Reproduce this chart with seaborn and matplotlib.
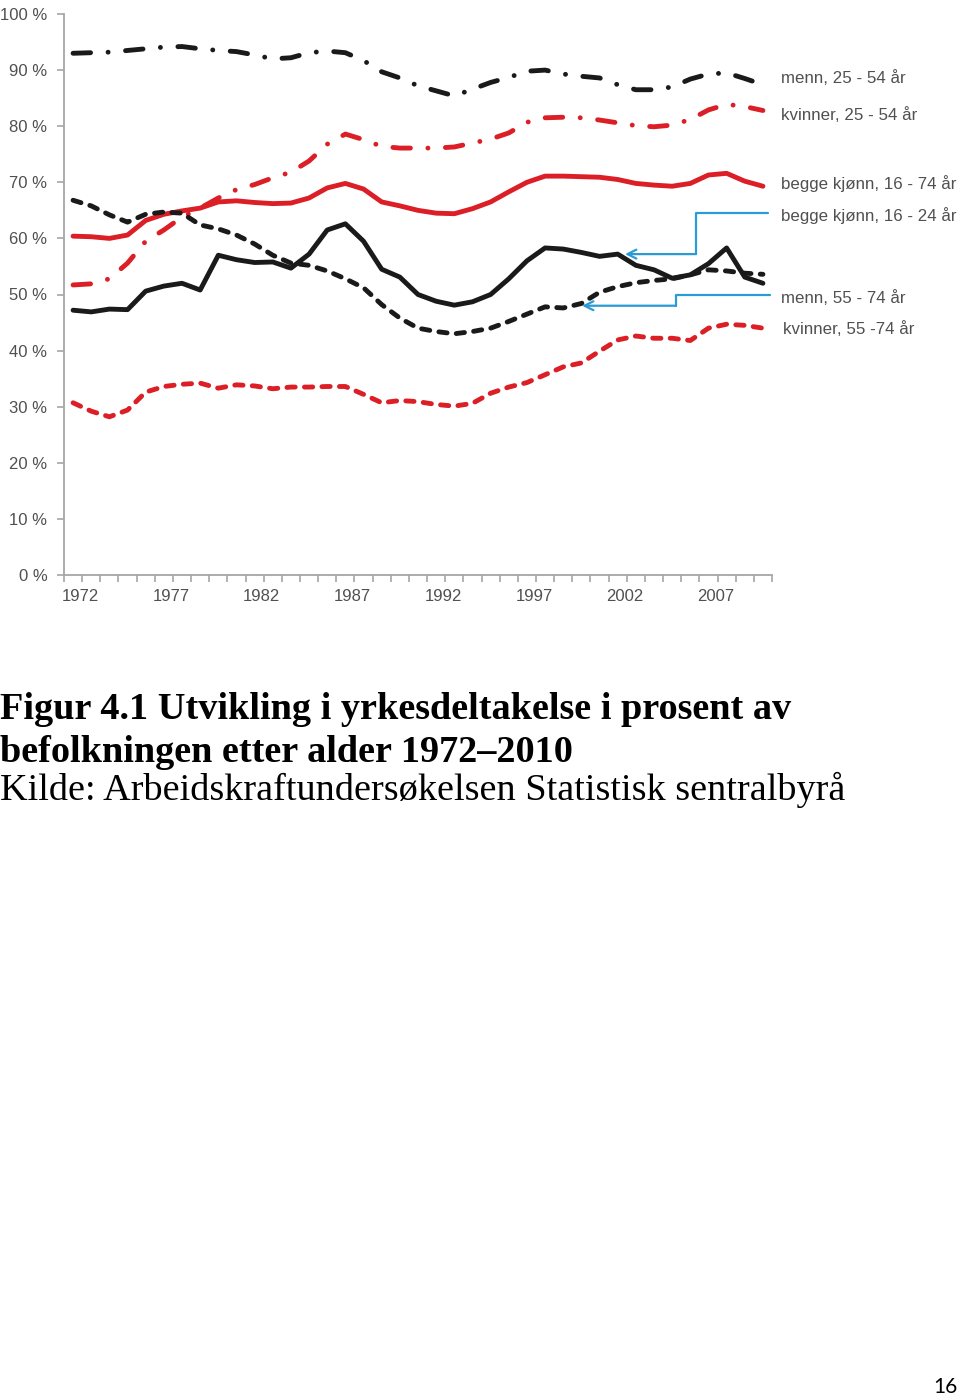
import numpy as np
import pandas as pd
import matplotlib
matplotlib.use("Agg")
import matplotlib.pyplot as plt
import matplotlib.transforms as mtrans
import seaborn as sns

# yrkesdeltakelse i prosent, 1972-2010 (lest av figuren)
years = list(range(1972, 2011))
menn_25_54 = [93.0, 93.1, 93.2, 93.5, 93.8, 94.1, 94.2, 93.8, 93.5, 93.3,
              92.7, 92.0, 92.2, 93.1, 93.4, 93.1, 91.7, 89.7, 88.6, 87.2,
              86.3, 85.4, 86.6, 87.8, 88.7, 89.8, 90.0, 89.3, 88.9, 88.6,
              87.4, 86.5, 86.5, 87.0, 88.4, 89.3, 89.5, 88.5, 87.4]
kvinner_25_54 = [51.7, 51.9, 52.8, 55.6, 59.5, 61.5, 63.8, 65.4, 67.2, 68.7,
                 69.6, 70.8, 71.8, 73.8, 76.8, 78.6, 77.6, 76.4, 76.1, 76.1,
                 76.1, 76.3, 77.0, 77.7, 78.8, 80.7, 81.5, 81.6, 81.5, 81.1,
                 80.6, 80.1, 79.9, 80.2, 81.2, 82.9, 83.9, 83.5, 82.8]
begge_16_74 = [60.4, 60.3, 60.0, 60.6, 63.2, 64.3, 64.9, 65.4, 66.5, 66.7,
               66.4, 66.2, 66.3, 67.2, 69.0, 69.8, 68.8, 66.5, 65.8, 65.0,
               64.5, 64.4, 65.3, 66.5, 68.3, 70.0, 71.1, 71.1, 71.0, 70.9,
               70.5, 69.8, 69.5, 69.3, 69.8, 71.3, 71.6, 70.2, 69.3]
begge_16_24 = [47.2, 46.9, 47.4, 47.3, 50.6, 51.5, 52.0, 50.8, 57.0, 56.2,
               55.7, 55.8, 54.7, 57.2, 61.5, 62.6, 59.5, 54.5, 53.1, 50.0,
               48.8, 48.1, 48.7, 50.0, 52.8, 56.0, 58.3, 58.1, 57.5, 56.8,
               57.2, 55.2, 54.4, 52.9, 53.5, 55.5, 58.3, 53.1, 52.0]
menn_55_74 = [66.8, 65.8, 64.2, 62.9, 64.3, 64.7, 64.5, 62.4, 61.7, 60.6,
              59.0, 57.0, 55.6, 55.2, 54.2, 52.8, 51.2, 48.2, 45.8, 44.0,
              43.4, 43.0, 43.4, 44.0, 45.2, 46.5, 47.8, 47.6, 48.4, 50.4,
              51.4, 52.1, 52.5, 52.8, 53.5, 54.4, 54.2, 53.8, 53.6]
kvinner_55_74 = [30.7, 29.2, 28.2, 29.4, 32.6, 33.6, 34.0, 34.2, 33.3, 33.9,
                 33.7, 33.2, 33.5, 33.5, 33.6, 33.6, 32.2, 30.7, 31.1, 30.9,
                 30.4, 30.1, 30.6, 32.4, 33.5, 34.3, 35.7, 37.1, 37.8, 39.9,
                 41.9, 42.6, 42.2, 42.2, 41.8, 44.0, 44.7, 44.5, 44.0]

series_names = ["menn, 25 - 54 år", "kvinner, 25 - 54 år", "begge kjønn, 16 - 74 år",
                "begge kjønn, 16 - 24 år", "menn, 55 - 74 år", "kvinner, 55 -74 år"]
series_values = [menn_25_54, kvinner_25_54, begge_16_74,
                 begge_16_24, menn_55_74, kvinner_55_74]

RED = "#dc1e26"
BLACK = "#1a1a1a"
GREY = "#a6a6a6"
TEXT = "#505050"
BLUE = "#2a9bd5"

colors = {series_names[0]: BLACK, series_names[1]: RED, series_names[2]: RED,
          series_names[3]: BLACK, series_names[4]: BLACK, series_names[5]: RED}
dashdot = (3.6, 3.6, 0.01, 3.6)
dashed = (1.7, 1.9)
dashes = {series_names[0]: dashdot, series_names[1]: dashdot, series_names[2]: "",
          series_names[3]: "", series_names[4]: dashed, series_names[5]: dashed}

df = pd.DataFrame({
    "år": years * len(series_names),
    "andel": np.concatenate(series_values),
    "serie": np.repeat(series_names, len(years)),
})

sns.set_theme(style="white")
plt.rcParams["font.family"] = ["Liberation Sans", "DejaVu Sans"]

fig = plt.figure(figsize=(9.6, 13.95), dpi=100)
W, H = 960, 1395
ax = fig.add_axes([64 / W, 1 - 575 / H, (772 - 64) / W, (575 - 14) / H])

sns.lineplot(data=df, x="år", y="andel", hue="serie", style="serie",
             palette=colors, dashes=dashes, linewidth=3.5, legend=False,
             dash_capstyle="round", solid_capstyle="round", ax=ax)

ax.set_xlim(1971.5, 2010.5)
ax.set_ylim(0, 100)
ax.set_xlabel("")
ax.set_ylabel("")
sns.despine(ax=ax)
for side in ["left", "bottom"]:
    ax.spines[side].set_color(GREY)
    ax.spines[side].set_linewidth(1.3)

ax.set_yticks(range(0, 101, 10))
ax.set_yticklabels([f"{v} %" for v in range(0, 101, 10)])
ax.set_xticks(range(1972, 2008, 5))
ax.set_xticks(np.arange(1971.5, 2011, 1), minor=True)
ax.tick_params(axis="y", which="major", direction="out", length=5, width=1.2,
               color=GREY, labelsize=12, labelcolor=TEXT, pad=7, left=True)
ax.tick_params(axis="x", which="major", length=0, labelsize=12,
               labelcolor=TEXT, pad=10)
ax.tick_params(axis="x", which="minor", direction="out", length=5, width=1.2,
               color=GREY, bottom=True)
shift = mtrans.ScaledTranslation(7 / 100, 0, fig.dpi_scale_trans)
for lab in ax.get_xticklabels():
    lab.set_transform(lab.get_transform() + shift)
ax.grid(False)

# etiketter til hoyre
label_y = [78, 115, 184, 216, 298, 329]
label_x = [781, 781, 781, 781, 781, 783]
for name, lx, ly in zip(series_names, label_x, label_y):
    fig.text(lx / W, 1 - ly / H, name, fontsize=12.2, color=TEXT,
             ha="left", va="center")

# blaa piler
def px_year(px):
    return 1971.5 + (px - 64) / (708 / 39)

def px_pct(py):
    return (575 - py) / 5.61

i2002 = years.index(2002)
t1 = (px_year(625), begge_16_24[i2002])
ax.plot([px_year(768), px_year(696), px_year(696)],
        [px_pct(213), px_pct(213), t1[1]], color=BLUE, lw=1.6, clip_on=False)
ax.annotate("", xy=t1, xytext=(px_year(696), t1[1]),
            arrowprops=dict(arrowstyle="->", color=BLUE, lw=1.6,
                            mutation_scale=16, shrinkA=0, shrinkB=0))

i2000 = years.index(2000)
t2 = (px_year(582), menn_55_74[i2000] - 0.4)
ax.plot([px_year(770), px_year(676), px_year(676)],
        [px_pct(295), px_pct(295), t2[1]], color=BLUE, lw=1.6, clip_on=False)
ax.annotate("", xy=t2, xytext=(px_year(676), t2[1]),
            arrowprops=dict(arrowstyle="->", color=BLUE, lw=1.6,
                            mutation_scale=16, shrinkA=0, shrinkB=0))

# figurtekst
serif = ["Liberation Serif", "DejaVu Serif"]
fig.text(0.0, 1 - 719 / H, "Figur 4.1 Utvikling i yrkesdeltakelse i prosent av",
         family=serif, fontsize=27.5, fontweight="bold", color="black",
         ha="left", va="baseline")
fig.text(0.0, 1 - 762 / H, "befolkningen etter alder 1972–2010",
         family=serif, fontsize=27.5, fontweight="bold", color="black",
         ha="left", va="baseline")
fig.text(0.0, 1 - 800 / H, "Kilde: Arbeidskraftundersøkelsen Statistisk sentralbyrå",
         family=serif, fontsize=27.5, color="black", ha="left", va="baseline")
fig.text(958 / W, 1 - 1393 / H, "16", family=["Lato", "DejaVu Sans"],
         fontsize=15, color="black", ha="right", va="baseline")

fig.savefig("out.png", dpi=100)
